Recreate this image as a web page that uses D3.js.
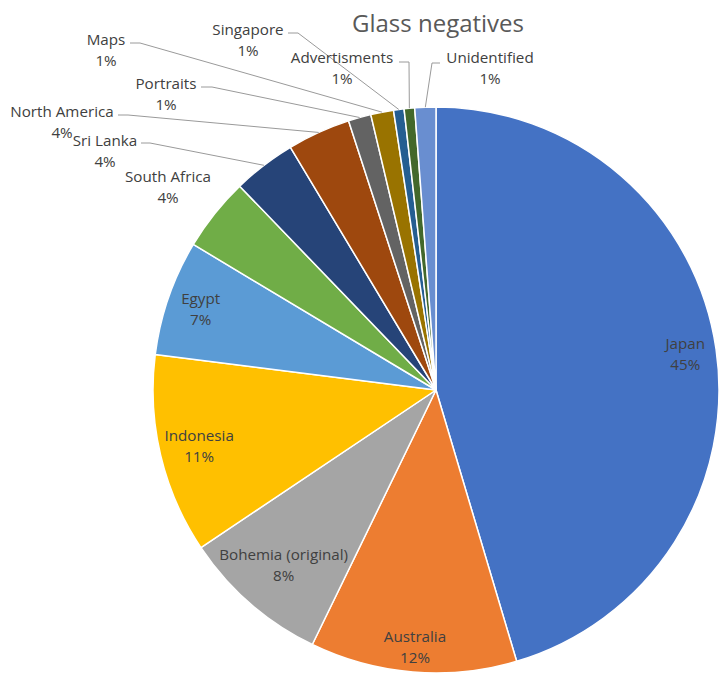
<!DOCTYPE html>
<html>
<head>
<meta charset="utf-8">
<script src="https://cdn.jsdelivr.net/npm/d3@7"></script>
<style>
  html, body { margin: 0; padding: 0; background: #fff; }
  svg { display: block; font-family: "Open Sans", "Liberation Sans", sans-serif; }
</style>
</head>
<body>
<svg id="chart" width="719" height="673"></svg>
<script>
// Collection breakdown of the glass negatives, share of items (%)
const categories = [
  "Japan", "Australia", "Bohemia (original)", "Indonesia", "Egypt",
  "South Africa", "Sri Lanka", "North America", "Portraits", "Maps",
  "Singapore", "Advertisments", "Unidentified"
];
const shares = [45.4, 11.8, 8.4, 11.4, 6.6, 4.2, 3.6, 3.6, 1.3, 1.3, 0.6, 0.6, 1.2];

// Office-style series palette
const palette = [
  "#4472C4", "#ED7D31", "#A5A5A5", "#FFC000", "#5B9BD5", "#70AD47",
  "#264478", "#9E480E", "#636363", "#997300", "#255E91", "#43682B", "#698ED0"
];

const title = "Glass negatives";

// Labels drawn inside their slices: fraction of the radius along the slice's mid-angle
const insideLabels = {
  "Japan": 0.89, "Australia": 0.91, "Bohemia (original)": 0.82,
  "Indonesia": 0.86, "Egypt": 0.88
};

// Labels placed outside the pie; optional leader line (y, start x, elbow x)
const outsideLabels = {
  "South Africa":  { x: 168, y: 182 },
  "Sri Lanka":     { x: 105, y: 146, line: { y: 143, x0: 141, x1: 150 } },
  "North America": { x: 62,  y: 117, line: { y: 115, x0: 118, x1: 128 } },
  "Portraits":     { x: 166, y: 89,  line: { y: 87,  x0: 201, x1: 212 } },
  "Maps":          { x: 106, y: 45,  line: { y: 43,  x0: 130, x1: 140 } },
  "Singapore":     { x: 248, y: 35,  line: { y: 33,  x0: 288, x1: 298 } },
  "Advertisments": { x: 342, y: 63,  line: { y: 62,  x0: 399, x1: 409 } },
  "Unidentified":  { x: 490, y: 63,  line: { y: 63,  x0: 440, x1: 432 } }
};

const svg = d3.select("#chart");
const cx = 436, cy = 390, radius = 283;
const lineGap = 21;
const labelSize = 15.2;

const data = categories.map((name, i) => ({ name, value: shares[i], color: palette[i] }));
const total = d3.sum(data, d => d.value);
const pctFmt = d3.format(".0%");

const pie = d3.pie().sort(null).value(d => d.value);
const arcs = pie(data);
const arc = d3.arc().innerRadius(0).outerRadius(radius);
const rim = d3.arc().innerRadius(radius).outerRadius(radius);

const g = svg.append("g").attr("transform", `translate(${cx},${cy})`);

g.selectAll("path.slice")
  .data(arcs)
  .join("path")
  .attr("class", "slice")
  .attr("d", arc)
  .attr("fill", d => d.data.color)
  .attr("stroke", "#fff")
  .attr("stroke-width", 1.5)
  .attr("stroke-linejoin", "round");

// Leader lines from outside labels to the rim of their slices
const leaders = arcs.filter(d => outsideLabels[d.data.name] && outsideLabels[d.data.name].line);
svg.append("g")
  .selectAll("polyline")
  .data(leaders)
  .join("polyline")
  .attr("fill", "none")
  .attr("stroke", "#9a9a9a")
  .attr("stroke-width", 1)
  .attr("points", d => {
    const L = outsideLabels[d.data.name].line;
    const [ex, ey] = rim.centroid(d);
    return [[L.x0, L.y], [L.x1, L.y], [ex + cx, ey + cy]].map(p => p.join(",")).join(" ");
  });

// Inside labels
arcs.filter(d => insideLabels[d.data.name] !== undefined).forEach(d => {
  const k = insideLabels[d.data.name];
  const a = d3.arc().innerRadius(radius * k).outerRadius(radius * k);
  const [x, y] = a.centroid(d);
  const t = svg.append("text")
    .attr("text-anchor", "middle")
    .attr("fill", "#404040")
    .attr("font-size", labelSize);
  t.append("tspan").attr("x", cx + x).attr("y", cy + y - 5).text(d.data.name);
  t.append("tspan").attr("x", cx + x).attr("y", cy + y - 5 + lineGap).text(pctFmt(d.data.value / total));
});

// Outside labels
arcs.filter(d => outsideLabels[d.data.name]).forEach(d => {
  const p = outsideLabels[d.data.name];
  const t = svg.append("text")
    .attr("text-anchor", "middle")
    .attr("fill", "#404040")
    .attr("font-size", labelSize);
  t.append("tspan").attr("x", p.x).attr("y", p.y).text(d.data.name);
  t.append("tspan").attr("x", p.x).attr("y", p.y + lineGap).text(pctFmt(d.data.value / total));
});

// Title
svg.append("text")
  .attr("x", 438)
  .attr("y", 32)
  .attr("text-anchor", "middle")
  .attr("fill", "#595959")
  .attr("font-size", 24)
  .text(title);
</script>
</body>
</html>
